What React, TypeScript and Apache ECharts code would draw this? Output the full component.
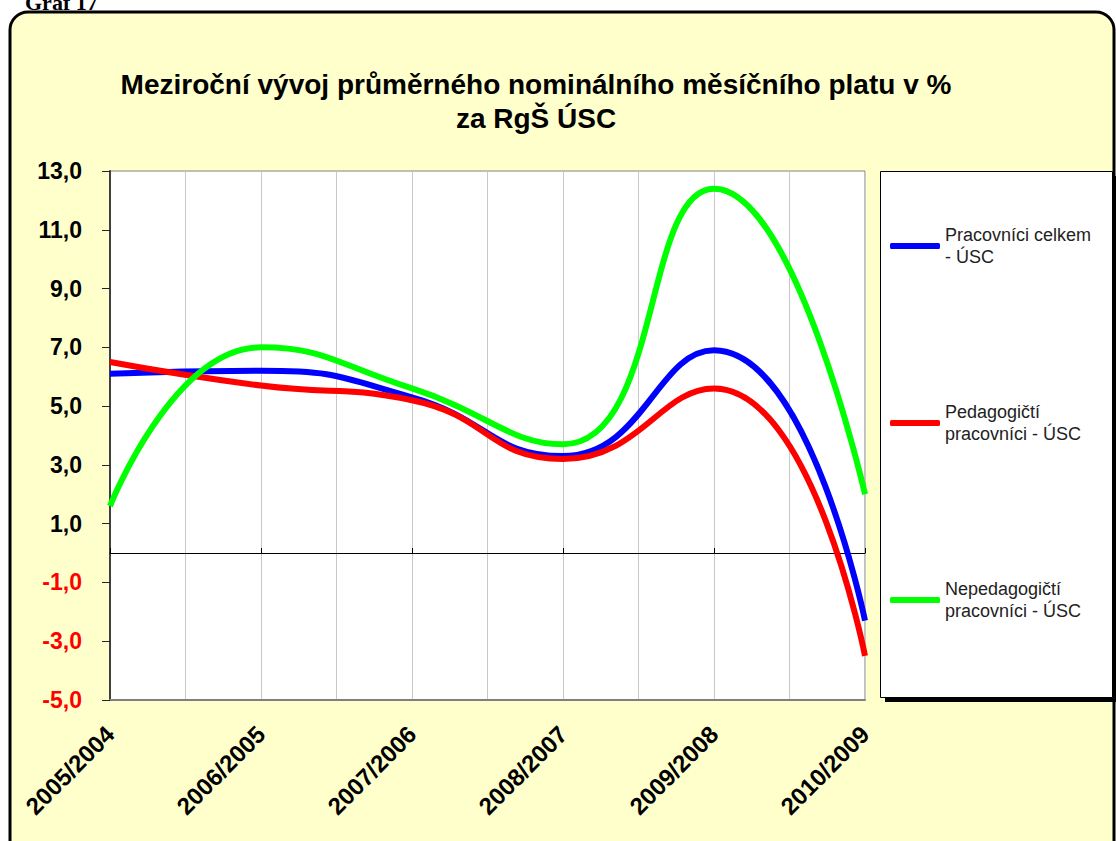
import React, { useEffect, useRef } from "react";
import * as echarts from "echarts";

const categories = ["2005/2004", "2006/2005", "2007/2006", "2008/2007", "2009/2008", "2010/2009"];
const seriesNames = ["Pracovníci celkem - ÚSC", "Pedagogičtí pracovníci - ÚSC", "Nepedagogičtí pracovníci - ÚSC"];
const legendLabels = ["Pracovníci celkem\n- ÚSC", "Pedagogičtí\npracovníci - ÚSC", "Nepedagogičtí\npracovníci - ÚSC"];
const celkem = [6.1, 6.2, 5.3, 3.3, 6.9, -2.3];
const pedagogicti = [6.5, 5.7, 5.2, 3.2, 5.6, -3.5];
const nepedagogicti = [1.6, 7.0, 5.6, 3.7, 12.4, 2.0];
const yTicks = [-5, -3, -1, 1, 3, 5, 7, 9, 11, 13];
const colors = ["#0000FF", "#FF0000", "#00FF00"];

const FONT = 'Arial, "Liberation Sans", sans-serif';

export default function App() {
  const ref = useRef<HTMLDivElement>(null);
  useEffect(() => {
    if (!ref.current) return;
    const chart = echarts.init(ref.current, undefined, { renderer: "svg" });
    const allSeries = [celkem, pedagogicti, nepedagogicti];
    const labelOf: Record<string, string> = {};
    seriesNames.forEach((n, i) => (labelOf[n] = legendLabels[i]));
    chart.setOption({
      animation: false,
      backgroundColor: "#ffffff",
      graphic: [
        {
          type: "rect",
          z: -10,
          silent: true,
          shape: { x: 10, y: 12, width: 1104, height: 860, r: 18 },
          style: { fill: "#FFFFCC", stroke: "#000000", lineWidth: 3 },
        },
        {
          type: "text",
          z: -5,
          left: 25,
          top: -9,
          style: { text: "Graf 17", font: 'bold 22px "Times New Roman", "Liberation Serif", serif', fill: "#000" },
        },
        {
          type: "rect",
          z: -4,
          silent: true,
          shape: { x: 885, y: 176, width: 233, height: 526 },
          style: { fill: "#000000" },
        },
        {
          type: "rect",
          z: -3,
          silent: true,
          shape: { x: 880.5, y: 171.5, width: 232, height: 526 },
          style: { fill: "#ffffff", stroke: "#000000", lineWidth: 1 },
        },
      ],
      title: {
        text: "Meziroční vývoj průměrného nominálního měsíčního platu v %\nza RgŠ ÚSC",
        left: 531,
        top: 62,
        textAlign: "center",
        textStyle: { fontFamily: FONT, fontSize: 28, fontWeight: "bold", color: "#000", lineHeight: 34 },
      },
      legend: {
        orient: "vertical",
        left: 885,
        top: 208,
        itemWidth: 50,
        itemHeight: 6,
        itemGap: 111,
        icon: "roundRect",
        formatter: (name: string) => labelOf[name] || name,
        textStyle: { fontFamily: FONT, fontSize: 18, color: "#222", lineHeight: 22, padding: [22, 0, 0, 0] },
        data: seriesNames,
      },
      grid: {
        left: 110,
        right: 251,
        top: 171,
        bottom: 141,
        show: true,
        backgroundColor: "#ffffff",
        borderColor: "#808080",
        borderWidth: 1,
      },
      xAxis: [
        {
          type: "value",
          min: 0,
          max: 5,
          interval: 0.5,
          position: "bottom",
          axisLine: { show: true, onZero: false, lineStyle: { color: "#808080", width: 2 } },
          axisTick: { show: false },
          splitLine: { show: true, lineStyle: { color: "#C8C8C8", width: 1 } },
          axisLabel: {
            rotate: 45,
            margin: 30,
            fontFamily: FONT,
            fontSize: 24,
            fontWeight: "bold",
            color: "#000",
            formatter: (v: number) => (Number.isInteger(v) ? categories[v] : ""),
          },
        },
        {
          type: "value",
          min: 0,
          max: 5,
          interval: 1,
          position: "top",
          axisLine: { show: true, onZero: true, lineStyle: { color: "#000", width: 1 } },
          axisTick: { show: true, length: 5, inside: false, lineStyle: { color: "#000" } },
          axisLabel: { show: false },
          splitLine: { show: false },
        },
      ],
      yAxis: {
        type: "value",
        min: -5,
        max: 13,
        axisLine: { show: true, lineStyle: { color: "#404040", width: 2 } },
        axisTick: { show: true, length: 8, customValues: yTicks, lineStyle: { color: "#222" } },
        splitLine: { show: false },
        axisLabel: {
          customValues: yTicks,
          margin: 28,
          fontFamily: FONT,
          fontSize: 23,
          fontWeight: "bold",
          color: (v: any) => (Number(v) < 0 ? "#FF0000" : "#000000"),
          formatter: (v: number) => v.toFixed(1).replace(".", ","),
        },
      },
      series: allSeries.map((vals, i) => ({
        name: seriesNames[i],
        type: "line",
        xAxisIndex: 0,
        smooth: 0.5,
        symbol: "none",
        color: colors[i],
        lineStyle: { color: colors[i], width: 6 },
        data: vals.map((v, j) => [j, v]),
      })),
    });
    return () => chart.dispose();
  }, []);
  return <div ref={ref} style={{ position: "fixed", left: 0, top: 0, width: 1116, height: 841 }} />;
}
